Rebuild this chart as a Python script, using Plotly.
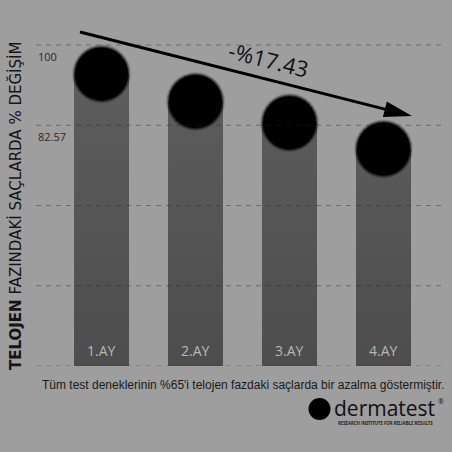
import math
import plotly.graph_objects as go

# ---------------- data ----------------
categories = ["1.AY", "2.AY", "3.AY", "4.AY"]
values = [99.7, 93.7, 89.1, 83.4]          # top of each capsule (% change scale)
tick_values = [100, 82.57]
tick_text = ["100", "82.57"]
grid_values = [100, 82.57, 65.14, 47.71, 30.28]
change_label = "-%17.43"
y_title = "<b>TELOJEN</b> FAZINDAKİ SAÇLARDA % DEĞİŞİM"
footer = "Tüm test deneklerinin %65'i telojen fazdaki saçlarda bir azalma göstermiştir."

# ---------------- layout geometry ----------------
W, H = 452, 452
ML, MR, MT, MB = 36, 9, 30, 86
PW, PH = W - ML - MR, H - MT - MB
Y_MIN, Y_MAX = 30.28, 103.26
X_MIN, X_MAX = -0.697, 3.633
BG = "#9e9e9e"
CIRCLE_D = 55  # px

units_per_px = (Y_MAX - Y_MIN) / PH
r_data = (CIRCLE_D / 2) * units_per_px
bar_w = CIRCLE_D * (X_MAX - X_MIN) / PW

def pxx(p):
    return (p - ML) / PW

def pxy(p):
    return (H - MB - p) / PH

centers = [v - r_data for v in values]
xs = list(range(len(categories)))

fig = go.Figure()
# gradient bars (closed fills from the axis floor up to each circle centre)
for i, c in zip(xs, centers):
    fig.add_trace(go.Scatter(
        x=[i - bar_w / 2, i + bar_w / 2, i + bar_w / 2, i - bar_w / 2, i - bar_w / 2],
        y=[Y_MIN, Y_MIN, c, c, Y_MIN],
        mode="lines", line=dict(width=0), fill="toself",
        fillgradient=dict(type="vertical", colorscale=[[0, "#4d4d4d"], [1, "#5f5f5f"]],
                          start=Y_MIN, stop=100),
        hoverinfo="skip",
    ))
# soft-edged black circles
for size, op in [(59, 0.14), (57, 0.28), (55, 0.5), (53, 1.0)]:
    fig.add_trace(go.Scatter(
        x=xs, y=centers, mode="markers",
        marker=dict(size=size, color="black", opacity=op, line=dict(width=0)),
        hoverinfo="skip",
    ))

shapes = []
for g in grid_values:
    shapes.append(dict(type="line", xref="paper", yref="y", x0=0, x1=1, y0=g, y1=g,
                       line=dict(color="rgba(40,40,40,0.42)", width=1, dash="5px,5px"),
                       layer="above"))

# trend arrow
tail = (80, 32)
tip = (412, 116)
ang = math.atan2(tip[1] - tail[1], tip[0] - tail[0])
head_len, head_half = 28, 8
bx = tip[0] - head_len * math.cos(ang)
by = tip[1] - head_len * math.sin(ang)
shapes.append(dict(type="line", xref="paper", yref="paper",
                   x0=pxx(tail[0]), y0=pxy(tail[1]), x1=pxx(bx + 3 * math.cos(ang)), y1=pxy(by + 3 * math.sin(ang)),
                   line=dict(color="black", width=3)))
c1 = (bx + head_half * math.sin(ang), by - head_half * math.cos(ang))
c2 = (bx - head_half * math.sin(ang), by + head_half * math.cos(ang))
path = "M{},{} L{},{} L{},{} Z".format(pxx(tip[0]), pxy(tip[1]), pxx(c1[0]), pxy(c1[1]), pxx(c2[0]), pxy(c2[1]))
shapes.append(dict(type="path", xref="paper", yref="paper", path=path,
                   fillcolor="black", line=dict(color="black", width=0)))

# logo circle
shapes.append(dict(type="circle", xref="paper", yref="paper",
                   x0=pxx(308.5), x1=pxx(330.5), y0=pxy(398), y1=pxy(420),
                   fillcolor="black", line=dict(width=0)))

annotations = []
for i, cat in zip(xs, categories):
    annotations.append(dict(x=i, y=Y_MIN, xref="x", yref="y", text=cat, showarrow=False,
                            xanchor="center", yanchor="bottom", yshift=4,
                            font=dict(family="Open Sans", size=14, color="#b7b7b7")))
for tv, tt in zip(tick_values, tick_text):
    annotations.append(dict(x=0, xref="paper", y=tv, yref="y", text=tt, showarrow=False,
                            xanchor="left", yanchor="middle", yshift=-11.5,
                            font=dict(family="Open Sans", size=11, color="#2a2a2a")))
annotations.append(dict(x=pxx(15.5), y=pxy(206.5), xref="paper", yref="paper", text=y_title,
                        textangle=-90, showarrow=False, xanchor="center", yanchor="middle",
                        font=dict(family="DejaVu Sans", size=15, color="#151515")))
annotations.append(dict(x=pxx(268), y=pxy(59), xref="paper", yref="paper", text=change_label,
                        textangle=14, showarrow=False, xanchor="center", yanchor="middle",
                        font=dict(family="Open Sans", size=22, color="#111111")))
annotations.append(dict(x=pxx(446), y=pxy(385), xref="paper", yref="paper", text=footer,
                        showarrow=False, xanchor="right", yanchor="middle",
                        font=dict(family="Liberation Sans", size=12, color="#1a1a1a")))
annotations.append(dict(x=pxx(332), y=pxy(408), xref="paper", yref="paper", text="dermatest",
                        showarrow=False, xanchor="left", yanchor="middle",
                        font=dict(family="Open Sans", size=21, color="#111111")))
annotations.append(dict(x=pxx(436), y=pxy(401), xref="paper", yref="paper", text="®",
                        showarrow=False, xanchor="left", yanchor="middle",
                        font=dict(family="Open Sans", size=7, color="#111111")))
annotations.append(dict(x=pxx(385.5), y=pxy(423), xref="paper", yref="paper",
                        text="<b>RESEARCH INSTITUTE FOR RELIABLE RESULTS</b>",
                        showarrow=False, xanchor="center", yanchor="middle",
                        font=dict(family="Open Sans", size=4.3, color="#222222")))

fig.update_layout(
    width=W, height=H,
    margin=dict(l=ML, r=MR, t=MT, b=MB, pad=0),
    paper_bgcolor=BG, plot_bgcolor=BG,
    showlegend=False,
    xaxis=dict(range=[X_MIN, X_MAX], visible=False, fixedrange=True),
    yaxis=dict(range=[Y_MIN, Y_MAX], visible=False, fixedrange=True),
    shapes=shapes, annotations=annotations,
)

fig.write_html("out.html", config={"displayModeBar": False},
               post_script="document.body.style.margin='0';document.body.style.background='#9e9e9e';")
